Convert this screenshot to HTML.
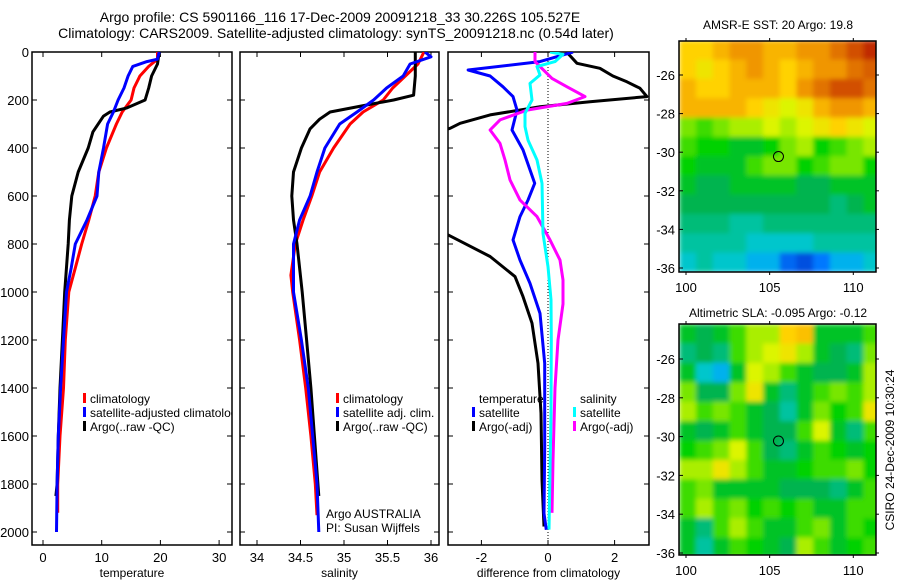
<!DOCTYPE html>
<html><head><meta charset="utf-8"><style>
html,body{margin:0;padding:0;background:#fff;}
svg{display:block;font-family:"Liberation Sans",sans-serif;}
</style></head><body>
<svg id="fig" width="900" height="580" viewBox="0 0 900 580" xmlns="http://www.w3.org/2000/svg">
<defs>
<clipPath id="c1"><rect x="32" y="52" width="200" height="493"/></clipPath>
<clipPath id="c2"><rect x="240" y="52" width="199" height="493"/></clipPath>
<clipPath id="c3"><rect x="448" y="52" width="201" height="493"/></clipPath>
<clipPath id="cm1"><rect x="679" y="41" width="197" height="231"/></clipPath>
<clipPath id="cm2"><rect x="679" y="324" width="197" height="231"/></clipPath>
<filter id="blur" x="-5%" y="-5%" width="110%" height="110%"><feGaussianBlur stdDeviation="2.5" edgeMode="duplicate"/></filter>
</defs>
<text x="340" y="22" font-size="14" text-anchor="middle">Argo profile: CS 5901166_116 17-Dec-2009 20091218_33 30.226S 105.527E</text>
<text x="336" y="38" font-size="14" text-anchor="middle">Climatology: CARS2009. Satellite-adjusted climatology: synTS_20091218.nc (0.54d later)</text>
<g id="p1"></g>
<g id="p2"></g>
<g id="p3"></g>
<g id="m1"></g>
<g id="m2"></g>
<text x="778" y="29" font-size="12" text-anchor="middle">AMSR-E SST: 20 Argo: 19.8</text>
<text x="778" y="317" font-size="12" text-anchor="middle">Altimetric SLA: -0.095 Argo: -0.12</text>
<text transform="translate(894,450) rotate(-90)" font-size="12" text-anchor="middle">CSIRO 24-Dec-2009 10:30:24</text>
</svg>
<script>
// ---- profile data ----
const tempClimDepth=[0,30,60,100,150,200,250,300,400,500,600,700,800,900,1000,1200,1400,1600,1800,1920];
const tempClimVal=[19.5,19.5,18,16.5,15.5,15,13.5,12.5,10.8,9.5,8.9,7.8,6.6,5.5,4.4,3.8,3.5,2.9,2.5,2.5];
const tempSatDepth=[0,30,40,60,100,150,200,250,300,400,500,600,700,800,900,1000,1200,1400,1600,1800,2000];
const tempSatVal=[19.8,19.5,17.7,15.3,14.5,13.8,12.8,12,11,10.3,9.5,9.2,7.5,5.5,4.8,4.0,3.5,3.0,2.6,2.4,2.3];
const tempArgoDepth=[0,50,100,150,200,233,250,267,333,400,500,600,700,800,1000,1200,1400,1600,1800,1850];
const tempArgoVal=[19.8,19.5,18.5,18,17.4,14.3,11.4,10.3,8.5,7.7,6,4.9,4.5,4.3,3.7,3.3,2.9,2.6,2.4,2.2];

const salClimDepth=[0,50,150,200,250,300,400,500,600,700,800,930,1000,1200,1400,1600,1800,1930];
const salClimVal=[35.92,35.85,35.56,35.45,35.22,35.07,34.88,34.72,34.63,34.53,34.44,34.39,34.41,34.49,34.56,34.62,34.67,34.69];
const salSatDepth=[0,20,50,100,150,200,250,300,400,500,600,700,800,1000,1200,1400,1600,1800,2000];
const salSatVal=[35.93,36.0,35.76,35.68,35.49,35.34,35.15,34.95,34.78,34.69,34.61,34.49,34.42,34.42,34.51,34.59,34.64,34.69,34.71];
const salArgoDepth=[0,100,180,200,225,250,280,320,400,500,600,700,800,1000,1200,1400,1600,1850];
const salArgoVal=[35.82,35.82,35.8,35.57,35.2,34.84,34.72,34.61,34.51,34.42,34.4,34.42,34.46,34.52,34.57,34.62,34.66,34.71];

const dTSatDepth=[0,40,75,100,145,186,242,325,408,547,617,686,783,867,964,1089,1297,1644,1922,1991];
const dTSatVal=[0.75,-0.24,-2.4,-1.74,-1.35,-1.05,-0.93,-1.08,-0.75,-0.4,-0.6,-0.84,-1.05,-0.84,-0.54,-0.24,-0.1,-0.1,-0.12,-0.05];
const dTArgoDepth=[0,47,68,100,124,151,186,207,228,262,297,318,340,500,700,740,762,852,936,1019,1130,1297,1505,1783,1977];
const dTArgoVal=[0.56,0.87,1.56,1.95,2.37,2.76,2.97,1.26,-0.24,-1.74,-2.64,-2.94,-3.5,-5,-4,-3.3,-3,-1.74,-0.99,-0.75,-0.48,-0.3,-0.21,-0.18,-0.12];
const dSSatDepth=[0,10,40,61,96,131,200,256,311,367,450,547,756,894,1033,1200,1500,1990];
const dSSatVal=[0.06,0.45,0.21,-0.33,-0.24,-0.54,-0.48,-0.69,-0.69,-0.6,-0.33,-0.18,-0.15,0,0.09,0.1,0.09,0.03];
const dSArgoDepth=[0,40,61,110,145,186,214,242,283,325,381,450,533,617,686,783,867,950,1050,1200,1400,1700,1920];
const dSArgoVal=[-0.39,-0.39,-0.24,0.12,0.57,1.11,0.57,-0.63,-1.44,-1.74,-1.44,-1.29,-1.14,-0.84,-0.33,0.06,0.36,0.45,0.45,0.3,0.21,0.15,0.12];

const depthTicks=[0,200,400,600,800,1000,1200,1400,1600,1800,2000];
const tempTicks=[0,10,20,30];
const salTicks=[34,34.5,35,35.5,36];
const diffTicks=[-2,0,2];

// ---- map data (colour index 0=blue .. 10=dark red), 1-degree cells from 99.6E, -24.2S ----
const mapLons=[99.6,100.6,101.6,102.6,103.6,104.6,105.6,106.6,107.6,108.6,109.6,110.6];
const mapLats=[-24.2,-25.2,-26.2,-27.2,-28.2,-29.2,-30.2,-31.2,-32.2,-33.2,-34.2,-35.2];
const sstRows=[
[7.5,7.5,8,8.5,8.5,8,8,8.5,8.5,9,9.5,9.8],
[7.5,7,7.5,8,8.5,8,7.5,8,8.5,8.5,9,9.3],
[8,7.5,7.5,8,8,8,7.5,8.5,9,9.5,9.5,9],
[8,8,8,8,7.5,7,6.5,7,8,8.5,8.5,8],
[5.5,5,5.5,6,6,6.5,6,6.5,7,7.5,7,6.5],
[5,4.5,4.5,4,4,4.5,5.5,6,4.5,5,5.5,6],
[4.5,4,4,4,5,5.5,5.5,4.5,5,5.5,5.5,4.5],
[4,3.5,3.5,4,4,4,4,3.5,3.5,4,4,4],
[3.5,3.5,3.5,3.5,3.5,3.5,3.5,3.5,3.5,3,3.5,4],
[3,3,3,2.5,2.5,3,3,3,3,3,3,3],
[2.5,2.5,2.5,2.5,2,2,2,2,2.5,2.5,2.5,2.5],
[2,2.5,2,2,1.5,1.5,0.8,0.5,1,1.5,1.5,2]];
const slaRows=[
[4,3.5,4,5,6,6,7.5,7.8,4,4,4,5],
[3,3.5,3,5,6,6.5,7,6,4,3.5,3,5.5],
[4,2,1.5,4,6.5,6,5,4,3.5,3.5,4,6],
[5.5,3.5,3.5,5.5,7,4,3,4,5,5.5,5,6],
[6,5,5.5,5,4,3.5,2.5,4,5.5,4.5,5,7],
[4,3.5,4,5,4,3.5,3.5,5,6.5,4,3,5],
[4.5,5,5.5,6.5,5,3.5,3,4,5,4.5,4,4.5],
[6,6,7,6,5,4,4,4.5,5,5,5.5,4.5],
[5,5.5,4,4,4,4,3.5,3.5,3.5,3,4,5],
[5,6,5,5.5,4.5,5,4.5,5,4,4,5,5],
[4,3,5,6,5,4,4,5,5.5,4,5,4.5],
[4,2.5,4,5,4.5,4,3.5,6,5,4,4.5,5]];
const lonTicks=[100,105,110];
const latTicks=[-26,-28,-30,-32,-34,-36];
const argoLon=105.527, argoLat=-30.226;

const NS='http://www.w3.org/2000/svg';
function mk(parent,tag,attrs,text){const e=document.createElementNS(NS,tag);for(const k in attrs)e.setAttribute(k,attrs[k]);if(text!==undefined)e.textContent=text;parent.appendChild(e);return e;}
const TOP=52,BOT=545;
const yD=d=>TOP+d*0.24;

function panel(g,x0,x1,xs,ticks,fmt,label,showDepth,clip){
  const fr=mk(g,'rect',{x:x0,y:TOP,width:x1-x0,height:BOT-TOP,fill:'none',stroke:'#000','stroke-width':1.5});
  
  
  depthTicks.forEach(d=>{
    const y=yD(d);
    mk(g,'line',{x1:x0,x2:x0+5,y1:y,y2:y,stroke:'#000'});
    mk(g,'line',{x1:x1-5,x2:x1,y1:y,y2:y,stroke:'#000'});
    if(showDepth){const t=mk(g,'text',{x:x0-3,y:y+5,'font-size':13,'text-anchor':'end'},String(d));
      
      }
  });
  ticks.forEach(v=>{
    const x=xs(v);
    mk(g,'line',{x1:x,x2:x,y1:BOT,y2:BOT-5,stroke:'#000'});
    mk(g,'line',{x1:x,x2:x,y1:TOP,y2:TOP+5,stroke:'#000'});
    const t=mk(g,'text',{x:x,y:562,'font-size':13,'text-anchor':'middle'},fmt(v));
    
    
  });
  const l=mk(g,'text',{x:(x0+x1)/2,y:577,'font-size':12,'text-anchor':'middle'},label);
  
  
  const cg=mk(g,'g',{'clip-path':'url(#'+clip+')'});
  return cg;
}
function line(g,xs,depths,vals,color,name){
  const d=depths.map((dd,i)=>(i?'L':'M')+xs(vals[i]).toFixed(1)+','+yD(dd).toFixed(1)).join('');
  const p=mk(g,'path',{d:d,fill:'none',stroke:color,'stroke-width':3,'stroke-linejoin':'round'});
  
  
}
function legend(g,x,y,items,fs){
  items.forEach((it,i)=>{
    const yy=y+i*14;
    if(it[1]) mk(g,'rect',{x:x,y:yy-10,width:3,height:10,fill:it[1]});
    const t=mk(g,'text',{x:x+7,y:yy,'font-size':fs||12},it[0]);
    
    
  });
}
// panel 1
const xT=v=>43+v*5.87;
const c1=panel(document.getElementById('p1'),32,232,xT,tempTicks,String,'temperature',true,'c1');
line(c1,xT,tempClimDepth,tempClimVal,'#ff0000','temp-climatology-line');
line(c1,xT,tempArgoDepth,tempArgoVal,'#000','temp-argo-line');
line(c1,xT,tempSatDepth,tempSatVal,'#0000ff','temp-satellite-line');
legend(c1,83,403,[['climatology','#ff0000'],['satellite-adjusted climatology','#0000ff'],['Argo(..raw -QC)','#000']]);
// panel 2
const xS=v=>257+(v-34)*87;
const c2=panel(document.getElementById('p2'),240,439,xS,salTicks,String,'salinity',false,'c2');
line(c2,xS,salClimDepth,salClimVal,'#ff0000','sal-climatology-line');
line(c2,xS,salArgoDepth,salArgoVal,'#000','sal-argo-line');
line(c2,xS,salSatDepth,salSatVal,'#0000ff','sal-satellite-line');
legend(c2,336,403,[['climatology','#ff0000'],['satellite adj. clim.','#0000ff'],['Argo(..raw -QC)','#000']]);
const a1=mk(c2,'text',{x:326,y:518,'font-size':12},'Argo AUSTRALIA');

const a2=mk(c2,'text',{x:326,y:532,'font-size':12},'PI: Susan Wijffels');

// panel 3
const xDf=v=>548+v*33.3;
const c3=panel(document.getElementById('p3'),448,649,xDf,diffTicks,String,'difference from climatology',false,'c3');
const zl=mk(c3,'line',{x1:xDf(0),x2:xDf(0),y1:TOP,y2:BOT,stroke:'#000','stroke-width':1,'stroke-dasharray':'1,2'});

line(c3,xDf,dTArgoDepth,dTArgoVal,'#000','temp-argo-diff-line');
line(c3,xDf,dTSatDepth,dTSatVal,'#0000ff','temp-satellite-diff-line');
line(c3,xDf,dSArgoDepth,dSArgoVal,'#ff00ff','sal-argo-diff-line');
line(c3,xDf,dSSatDepth,dSSatVal,'#00ffff','sal-satellite-diff-line');
legend(c3,472,403,[['temperature',null],['satellite','#0000ff'],['Argo(-adj)','#000']]);
legend(c3,573,403,[['salinity',null],['satellite','#00ffff'],['Argo(-adj)','#ff00ff']]);

// maps
const stops=[[0,[0,40,190]],[1,[0,120,255]],[1.7,[0,200,230]],[2.5,[0,195,160]],[3.5,[0,180,80]],[4.5,[0,210,0]],[5.5,[120,230,0]],[6.5,[220,245,0]],[7.5,[255,210,0]],[8.5,[240,150,0]],[9.5,[210,80,0]],[10,[180,20,0]]];
function cmap(v){
  for(let i=1;i<stops.length;i++){if(v<=stops[i][0]){const a=stops[i-1],b=stops[i],t=(v-a[0])/(b[0]-a[0]);
    return 'rgb('+a[1].map((c,k)=>Math.round(c+(b[1][k]-c)*t)).join(',')+')';}}
  return 'rgb(180,20,0)';
}
function map(id,top,bot,lat26,lat36,rows,name,labelY,clip){
  const g=document.getElementById(id);
  const L=679,R=876;
  const xL=lon=>686+(lon-100)*16.73;
  const yL=lat=>lat26+(lat+26)*(lat26-lat36)/10;
  const outer=mk(g,'g',{'clip-path':'url(#'+clip+')'});
  const cg=mk(outer,'g',{filter:'url(#blur)'});
  rows.forEach((row,r)=>row.forEach((v,c)=>{
    const x0=xL(mapLons[c]),x1=xL(mapLons[c]+1);
    const y0=yL(mapLats[r]),y1=yL(mapLats[r]-1);
    const rc=mk(cg,'rect',{x:x0.toFixed(1),y:y0.toFixed(1),width:(x1-x0+0.5).toFixed(1),height:(y1-y0+0.5).toFixed(1),fill:cmap(v)});
    
    
  }));
  const fr=mk(g,'rect',{x:L,y:top,width:R-L,height:bot-top,fill:'none',stroke:'#000','stroke-width':1.5});
  
  latTicks.forEach(lat=>{const y=yL(lat);
    mk(g,'line',{x1:L,x2:L+4,y1:y,y2:y,stroke:'#000'});mk(g,'line',{x1:R,x2:R+3,y1:y,y2:y,stroke:'#000'});
    const t=mk(g,'text',{x:L-4,y:y+5,'font-size':13,'text-anchor':'end'},String(lat));
    });
  lonTicks.forEach(lon=>{const x=xL(lon);
    mk(g,'line',{x1:x,x2:x,y1:bot,y2:bot+3,stroke:'#000'});mk(g,'line',{x1:x,x2:x,y1:top,y2:top-3,stroke:'#000'});
    const t=mk(g,'text',{x:x,y:labelY,'font-size':13,'text-anchor':'middle'},String(lon));
    });
  const ci=mk(g,'circle',{cx:xL(argoLon),cy:yL(argoLat),r:5,fill:'none',stroke:'#000','stroke-width':1});
  
}
map('m1',41,272,75,268,sstRows,'sst-map',292,'cm1');
map('m2',324,555,359,553,slaRows,'sla-map',575,'cm2');
</script>
</body></html>
